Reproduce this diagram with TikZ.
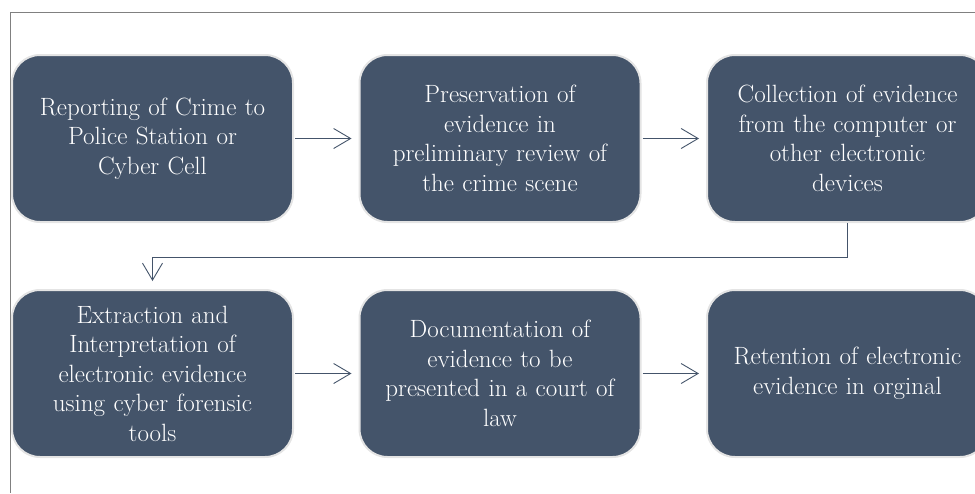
\documentclass[tikz,border=0pt]{standalone}
\usetikzlibrary{arrows.meta}
\definecolor{slate}{HTML}{44546A}
\definecolor{rim}{HTML}{E4E4E4}
\tikzset{
    stagebox/.style={rectangle, rounded corners=28pt, fill=slate, draw=rim, line width=2pt,
        minimum width=281pt, minimum height=167pt, text width=266pt, align=center,
        text=white, font=\fontsize{25}{29.5}\selectfont},
    flow/.style={draw=slate, line width=0.9pt, -{Straight Barb[length=17pt,width=20pt,line width=0.9pt]}},
}
\begin{document}
\begin{tikzpicture}[x=1pt, y=-1pt]
        \useasboundingbox (0,0) rectangle (975,493);
        \clip (0,0) rectangle (975,493);
        % Rahmen
        \draw[gray, line width=0.8pt] (10,12) -- (975,12);
        \draw[gray, line width=0.8pt] (10,12) -- (10,493);

        % Schritte
        \foreach \name/\x/\y/\val in {
            b1/152.5/138.5/{Reporting of Crime to\\Police Station or\\Cyber Cell},
            b2/500/138.5/{Preservation of\\evidence in\\preliminary review of\\the crime scene},
            b3/847.5/138.5/{Collection of evidence\\from the computer or\\other electronic\\devices},
            b4/152.5/373.5/{Extraction and\\Interpretation of\\electronic evidence\\using cyber forensic\\tools},
            b5/500/373.5/{Documentation of\\evidence to be\\presented in a court of\\law},
            b6/847.5/373.5/{Retention of electronic\\evidence in orginal}
            } {
            \node[stagebox] (\name) at (\x, \y) {\val};
        }

        % Pfeile
        \draw[flow, shorten <=1pt, shorten >=7pt] (b1) -- (b2);
        \draw[flow, shorten <=1pt, shorten >=7pt] (b2) -- (b3);
        \draw[flow, shorten >=8pt] (b3.south) -- ++(0,34) -| (b4.north);
        \draw[flow, shorten <=1pt, shorten >=7pt] (b4) -- (b5);
        \draw[flow, shorten <=1pt, shorten >=7pt] (b5) -- (b6);
    \end{tikzpicture}
\end{document}
